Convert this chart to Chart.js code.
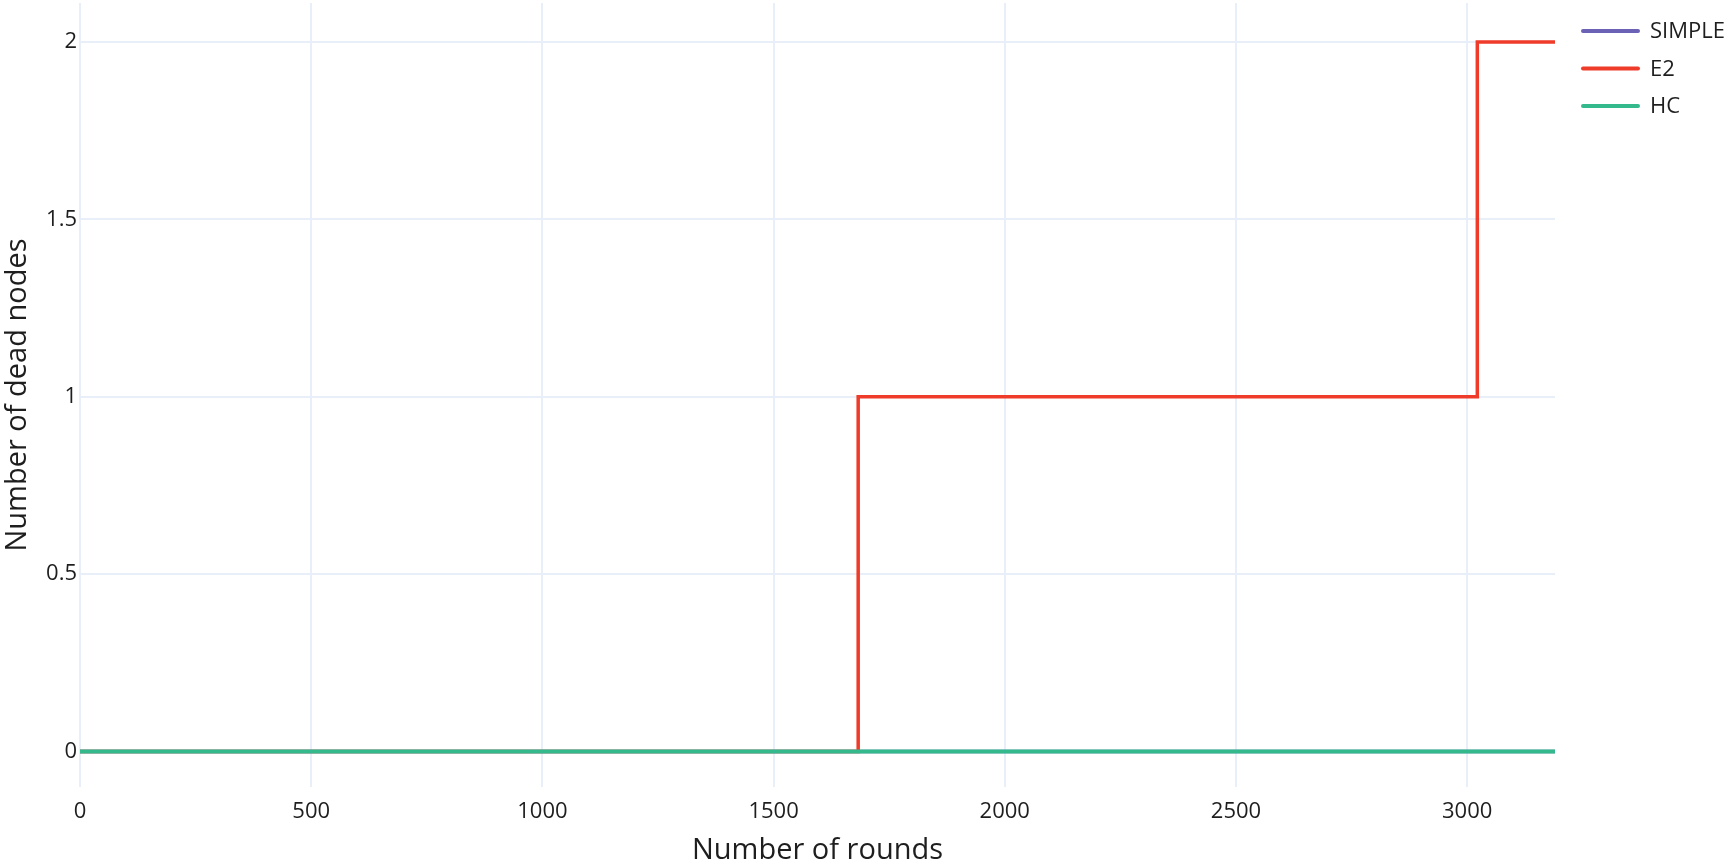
<!DOCTYPE html>
<html>
<head>
<meta charset="utf-8">
<script src="https://cdn.jsdelivr.net/npm/chart.js@4.4.1/dist/chart.umd.min.js"></script>
<style>
  html, body { margin: 0; padding: 0; background: #ffffff; }
  #wrap { position: absolute; left: 0; top: 0; width: 1732px; height: 865px; }
</style>
</head>
<body>
<div id="wrap"><canvas id="c" width="1732" height="865"></canvas></div>
<script>
// ---- data ----
const rounds      = [0, 1683, 3022, 3190];
const simpleDead  = [0, 0, 0, 0];
const e2Dead      = [0, 1, 2, 2];
const hcDead      = [0, 0, 0, 0];
const seriesNames = ['SIMPLE', 'E2', 'HC'];
const xTickValues = [0, 500, 1000, 1500, 2000, 2500, 3000];
const yTickValues = [0, 0.5, 1, 1.5, 2];
const xTitle = 'Number of rounds';
const yTitle = 'Number of dead nodes';

// ---- styling ----
const FONT = "'Open Sans', 'Noto Sans', sans-serif";
const TEXT = '#1e1e1e';
const GRID = '#e9eff8';
const colors = ['#6b62b5', '#ef3b2a', '#33b98b'];

const toPts = ys => rounds.map((x, i) => ({ x: x, y: ys[i] }));
const seriesValues = [simpleDead, e2Dead, hcDead];

const datasets = seriesNames.map((name, i) => ({
  label: name,
  data: toPts(seriesValues[i]),
  borderColor: colors[i],
  backgroundColor: colors[i],
  borderWidth: i === 2 ? 4 : 3.5,
  pointRadius: 0,
  stepped: 'before',
  fill: false,
  order: 3 - i
}));

const legendPlugin = {
  id: 'sideLegend',
  afterDraw(chart) {
    const ctx = chart.ctx;
    ctx.save();
    ctx.font = '22px ' + FONT;
    ctx.textBaseline = 'middle';
    ctx.textAlign = 'left';
    chart.data.datasets.forEach((ds, i) => {
      const y = 31 + i * 37.5;
      ctx.strokeStyle = ds.borderColor;
      ctx.lineWidth = 4;
      ctx.lineCap = 'round';
      ctx.beginPath();
      ctx.moveTo(1583, y);
      ctx.lineTo(1638, y);
      ctx.stroke();
      ctx.fillStyle = TEXT;
      ctx.fillText(ds.label, 1650, y + 1);
    });
    ctx.restore();
  }
};

new Chart(document.getElementById('c'), {
  type: 'line',
  data: { datasets: datasets },
  plugins: [legendPlugin],
  options: {
    responsive: false,
    animation: false,
    devicePixelRatio: 1,
    layout: { padding: { left: 0, top: 3, right: 177, bottom: 0 } },
    plugins: { legend: { display: false }, tooltip: { enabled: false } },
    scales: {
      x: {
        type: 'linear',
        min: 0,
        max: 3190,
        afterBuildTicks: s => { s.ticks = xTickValues.map(v => ({ value: v })); },
        afterFit: s => { s.height = 78; s.paddingLeft = 0; s.paddingRight = 0; },
        border: { display: false },
        grid: { color: GRID, lineWidth: 2, drawTicks: false },
        ticks: {
          padding: 12,
          color: TEXT,
          font: { family: FONT, size: 22 },
          maxRotation: 0,
          autoSkip: false,
          callback: v => String(v)
        },
        title: {
          display: true,
          text: xTitle,
          color: TEXT,
          font: { family: FONT, size: 29, lineHeight: 1 },
          padding: { top: 0, bottom: 0 }
        }
      },
      y: {
        type: 'linear',
        min: -0.1,
        max: 2.11,
        afterBuildTicks: s => { s.ticks = yTickValues.map(v => ({ value: v })); },
        afterFit: s => { s.width = 80; s.paddingTop = 0; s.paddingBottom = 0; },
        border: { display: false },
        grid: { color: GRID, lineWidth: 2, drawTicks: false },
        ticks: {
          padding: 3,
          color: TEXT,
          font: { family: FONT, size: 22 },
          autoSkip: false,
          callback: v => String(v)
        },
        title: {
          display: true,
          text: yTitle,
          color: TEXT,
          font: { family: FONT, size: 29, lineHeight: 1 },
          padding: { top: 3, bottom: 0 }
        }
      }
    }
  }
});
</script>
</body>
</html>
